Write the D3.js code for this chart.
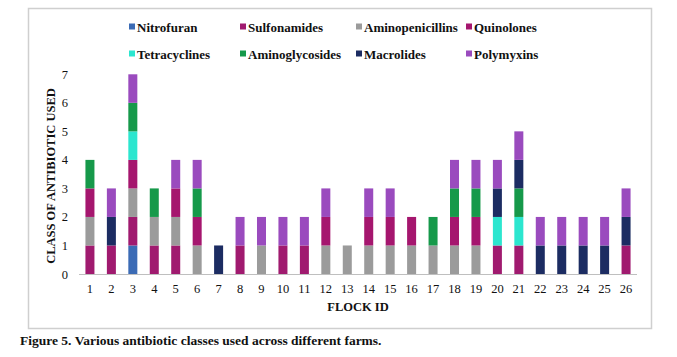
<!DOCTYPE html>
<html><head><meta charset="utf-8">
<script src="https://cdn.jsdelivr.net/npm/d3@7"></script>
<style>body{margin:0;background:#fff;}svg{display:block;font-family:"Liberation Serif","Times New Roman",serif;}</style>
</head><body><svg id="c" width="677" height="357"></svg>
<script>
const flocks = ["1","2","3","4","5","6","7","8","9","10","11","12","13","14","15","16","17","18","19","20","21","22","23","24","25","26"];
const seriesNames = ["Nitrofuran","Sulfonamides","Aminopenicillins","Quinolones","Tetracyclines","Aminoglycosides","Macrolides","Polymyxins"];
const seriesColors = ["#3B6BB5","#A01A6F","#9B9B9B","#A5166E","#2CE6CF","#16994A","#1C2C62","#9A4BBE"];
//                      1 2 3 4 5 6 7 8 9 10 11 12 13 14 15 16 17 18 19 20 21 22 23 24 25 26
const nitrofuran     = [0,0,1,0,0,0,0,0,0,0, 0, 0, 0, 0, 0, 0, 0, 0, 0, 0, 0, 0, 0, 0, 0, 0];
const sulfonamides   = [1,1,1,1,1,0,0,1,0,1, 1, 0, 0, 0, 0, 0, 0, 0, 0, 1, 1, 0, 0, 0, 0, 1];
const aminopenicillins=[1,0,1,1,1,1,0,0,1,0, 0, 1, 1, 1, 1, 1, 1, 1, 1, 0, 0, 0, 0, 0, 0, 0];
const quinolones     = [1,0,1,0,1,1,0,0,0,0, 0, 1, 0, 1, 1, 1, 0, 1, 1, 0, 0, 0, 0, 0, 0, 0];
const tetracyclines  = [0,0,1,0,0,0,0,0,0,0, 0, 0, 0, 0, 0, 0, 0, 0, 0, 1, 1, 0, 0, 0, 0, 0];
const aminoglycosides= [1,0,1,1,0,1,0,0,0,0, 0, 0, 0, 0, 0, 0, 1, 1, 1, 0, 1, 0, 0, 0, 0, 0];
const macrolides     = [0,1,0,0,0,0,1,0,0,0, 0, 0, 0, 0, 0, 0, 0, 0, 0, 1, 1, 1, 1, 1, 1, 1];
const polymyxins     = [0,1,1,0,1,1,0,1,1,1, 1, 1, 0, 1, 1, 0, 0, 1, 1, 1, 1, 1, 1, 1, 1, 1];
const yTicks = [0,1,2,3,4,5,6,7];

const seriesValues = [nitrofuran,sulfonamides,aminopenicillins,quinolones,tetracyclines,aminoglycosides,macrolides,polymyxins];
const table = flocks.map((f,i)=>{const o={flock:f};seriesNames.forEach((s,j)=>o[s]=seriesValues[j][i]);return o;});

const svg = d3.select("#c");
svg.append("rect").attr("x",28.5).attr("y",8.5).attr("width",623).attr("height",320)
  .attr("fill","#fff").attr("stroke","#CFCFCF").attr("stroke-width",1.5);

const x = d3.scaleBand().domain(flocks).range([79,637]).paddingInner(0.58).paddingOuter(0.3);
const y = d3.scaleLinear().domain([0,7]).range([274,74.3]);
const color = d3.scaleOrdinal().domain(seriesNames).range(seriesColors);

const stacked = d3.stack().keys(seriesNames)(table);
svg.append("g").selectAll("g").data(stacked).join("g").attr("fill",d=>color(d.key))
  .selectAll("rect").data(d=>d).join("rect")
  .attr("x",d=>x(d.data.flock)).attr("width",x.bandwidth())
  .attr("y",d=>y(d[1])).attr("height",d=>y(d[0])-y(d[1]));

const xa = svg.append("g").attr("transform","translate(0,274)")
  .call(d3.axisBottom(x).tickSize(0).tickPadding(10));
xa.select(".domain").attr("stroke","#BFBFBF").attr("d","M79,0.5H637");
xa.selectAll("text").attr("font-family","Liberation Serif").attr("font-size",12.5).attr("fill","#111");

const ya = svg.append("g").attr("transform","translate(72,0)")
  .call(d3.axisLeft(y).tickValues(yTicks).tickSize(0).tickPadding(4).tickFormat(d3.format("d")));
ya.select(".domain").remove();
ya.selectAll("text").attr("font-family","Liberation Serif").attr("font-size",12.5).attr("fill","#111");

svg.append("text").attr("transform","translate(55,176) rotate(-90)").attr("text-anchor","middle")
  .attr("font-weight","bold").attr("font-size",12.5).attr("fill","#111").text("CLASS OF ANTIBIOTIC USED");
svg.append("text").attr("x",358).attr("y",311).attr("text-anchor","middle")
  .attr("font-weight","bold").attr("font-size",12.5).attr("fill","#111").text("FLOCK ID");

const legX = [129,240,356,466];
const legY = [27,54];
const leg = svg.append("g");
seriesNames.forEach((s,i)=>{
  const gx = legX[i%4], gy = legY[Math.floor(i/4)];
  leg.append("rect").attr("x",gx).attr("y",gy-3.5).attr("width",6).attr("height",6).attr("fill",color(s));
  leg.append("text").attr("x",gx+8).attr("y",gy+4.5).attr("font-weight","bold").attr("font-size",13)
    .attr("fill","#111").text(s);
});

svg.append("text").attr("x",20).attr("y",345).attr("font-weight","bold").attr("font-size",13.5)
  .attr("fill","#111").text("Figure 5. Various antibiotic classes used across different farms.");
</script></body></html>
